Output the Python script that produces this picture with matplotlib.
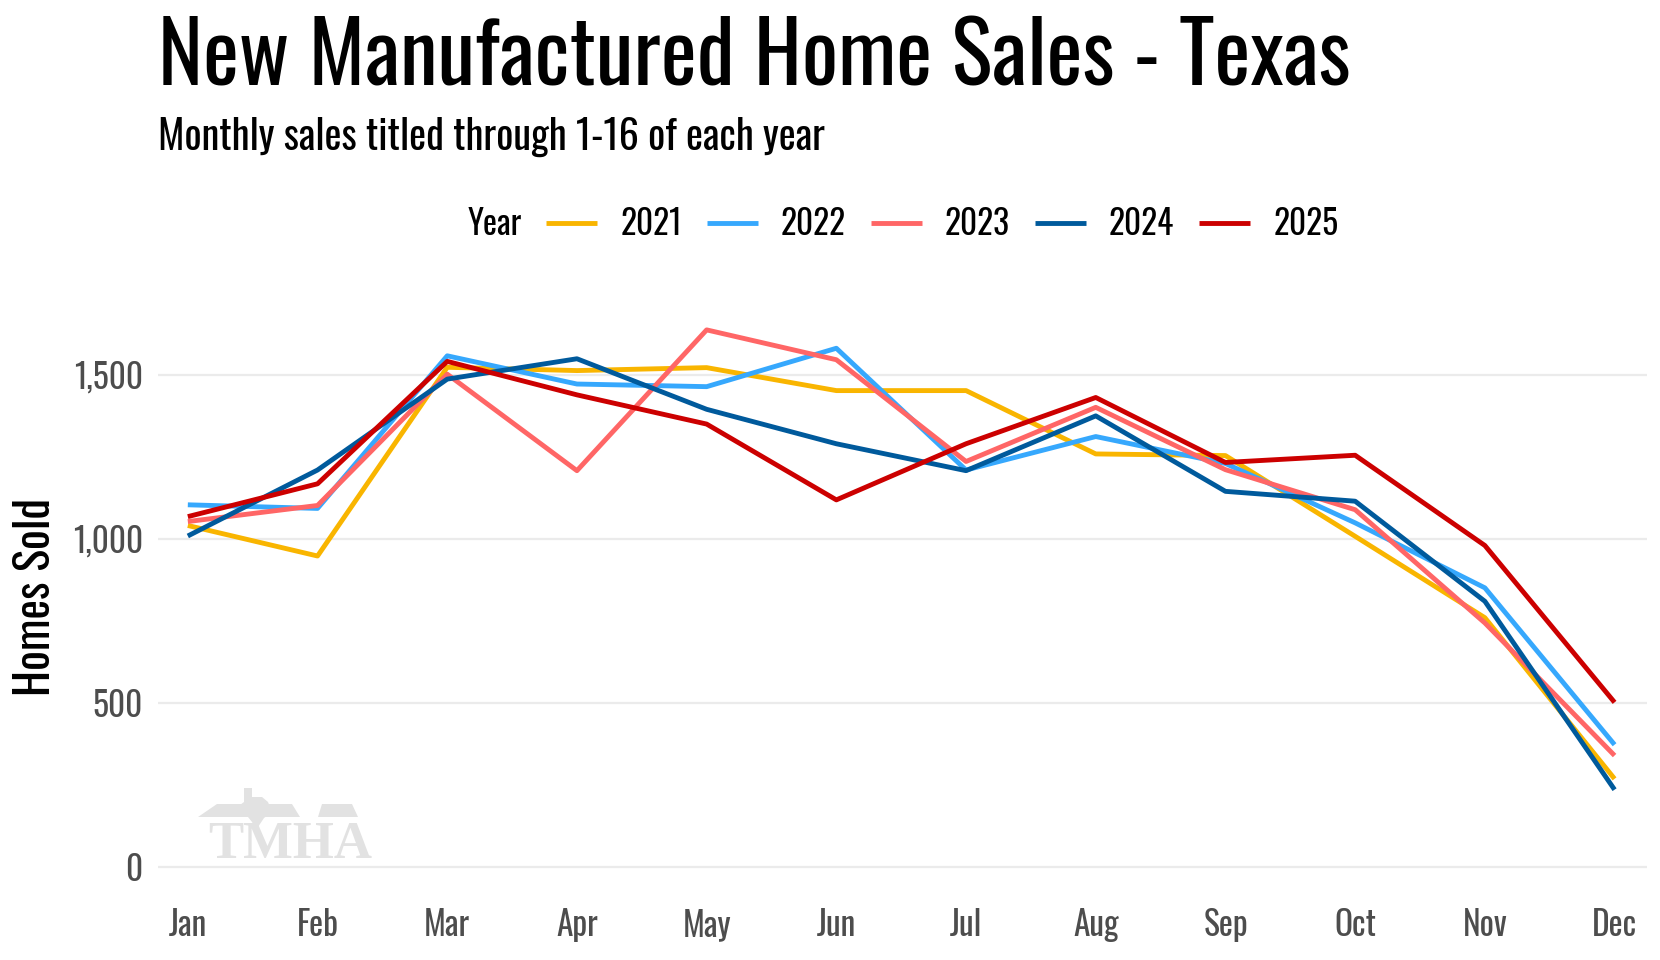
import matplotlib
matplotlib.use("Agg")
import matplotlib.pyplot as plt
from matplotlib.patches import Polygon
from matplotlib.ticker import FuncFormatter

months = ["Jan", "Feb", "Mar", "Apr", "May", "Jun",
          "Jul", "Aug", "Sep", "Oct", "Nov", "Dec"]
years = ["2021", "2022", "2023", "2024", "2025"]
colors = ["#F9B500", "#36A8FD", "#FF6666", "#005A9C", "#CC0000"]

sales_2021 = [1041, 948, 1523, 1513, 1522, 1452, 1452, 1259, 1254, 1008, 760, 269]
sales_2022 = [1104, 1093, 1558, 1472, 1464, 1581, 1210, 1312, 1230, 1049, 851, 373]
sales_2023 = [1053, 1102, 1502, 1208, 1637, 1546, 1236, 1401, 1211, 1089, 744, 340]
sales_2024 = [1009, 1210, 1487, 1549, 1395, 1290, 1208, 1375, 1145, 1115, 810, 236]
sales_2025 = [1068, 1168, 1541, 1439, 1350, 1119, 1290, 1431, 1233, 1255, 980, 502]
series = [sales_2021, sales_2022, sales_2023, sales_2024, sales_2025]

yticks = [0, 500, 1000, 1500]

plt.rcParams['font.family'] = ['Oswald', 'DejaVu Sans']

W, H = 1660, 960
fig = plt.figure(figsize=(W / 100, H / 100), dpi=100)
ax = fig.add_axes([158 / W, 1 - 894 / H, (1647 - 158) / W, (894 - 303) / H])

x = list(range(len(months)))
for vals, yr, col in zip(series, years, colors):
    ax.plot(x, vals, color=col, lw=3.5, label=yr, solid_joinstyle='round',
            solid_capstyle='butt', zorder=3)

ax.set_xlim(-0.23, 11.25)
ax.set_ylim(-81.85, 1718.9)
ax.set_xticks(x)
ax.set_xticklabels(months)
ax.set_yticks(yticks)
ax.yaxis.set_major_formatter(FuncFormatter(lambda v, p: f"{int(v):,}"))
ax.grid(axis='y', color='#EBEBEB', lw=1.6, zorder=0)
ax.grid(axis='x', visible=False)
ax.tick_params(length=0, labelsize=24, labelcolor='#4D4D4D')
ax.tick_params(axis='y', pad=11)
ax.tick_params(axis='x', pad=10)
for s in ax.spines.values():
    s.set_visible(False)

# TMHA watermark, bottom left of the panel
logo_col = '#E2E2E2'
fig.text(290 / W, 1 - 858 / H, "TMHA", family=['Liberation Serif', 'DejaVu Serif'],
         weight='bold', fontsize=38, color=logo_col, ha='center', va='baseline', zorder=1)
roof_l = [(198, 817), (217, 804), (292, 804), (300, 817)]
roof_r = [(318, 817), (322, 804), (352, 804), (358, 817)]
texas = [(244, 788), (252, 788), (252, 797), (262, 797), (268, 802), (272, 812),
         (264, 818), (256, 830), (252, 822), (244, 812), (236, 808), (244, 802)]
for pts in (roof_l, roof_r, texas):
    fig.patches.append(Polygon([(px / W, 1 - py / H) for px, py in pts], closed=True,
                               transform=fig.transFigure, facecolor=logo_col,
                               edgecolor='none', zorder=1))

fig.text(158 / W, 1 - 85 / H, "New Manufactured Home Sales - Texas",
         fontsize=61.5, ha='left', va='baseline', color='black')
fig.text(158 / W, 1 - 150 / H, "Monthly sales titled through 1-16 of each year",
         fontsize=29, ha='left', va='baseline', color='black')
fig.text(36 / W, 1 - 597 / H, "Homes Sold", rotation=90, fontsize=33.5,
         ha='center', va='center', color='black')

fig.text(468 / W, 1 - 224 / H, "Year", fontsize=24, ha='left', va='center')
fig.legend(*ax.get_legend_handles_labels(), loc='center left',
           bbox_to_anchor=(546 / W, 1 - 224 / H), ncol=5, frameon=False,
           fontsize=24, borderpad=0, borderaxespad=0, handlelength=1.53,
           handletextpad=0.7, columnspacing=0.74)

fig.savefig("out.png", dpi=100, facecolor='white')
